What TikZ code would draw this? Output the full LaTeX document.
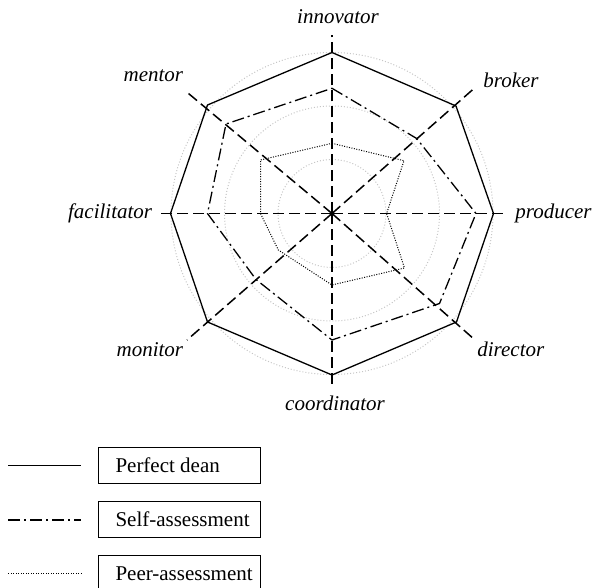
\documentclass[tikz,border=0pt]{standalone}
\usepackage{fontspec}
\setmainfont{Liberation Serif}
\usetikzlibrary{positioning}

\begin{document}
\begin{tikzpicture}[x=0.5pt,y=-0.5pt,font=\fontsize{10.5}{12}\selectfont]

	\tikzstyle{axis line}=[line width=0.75pt,dash pattern=on 5.5pt off 2.5pt]
	\tikzstyle{grid circle}=[gray!45,line width=0.5pt,dash pattern=on 0.5pt off 1pt]
	\tikzstyle{perfect dean}=[line width=0.65pt]
	\tikzstyle{self assessment}=[line width=0.65pt,dash pattern=on 6pt off 2pt on 1pt off 2pt]
	\tikzstyle{peer assessment}=[line width=0.5pt,dash pattern=on 0.5pt off 0.75pt]
	\tikzstyle{role}=[inner sep=0pt,font=\fontsize{10.5}{12}\selectfont\itshape]
	\tikzstyle{legend box}=[draw,line width=0.5pt,minimum height=18pt,inner xsep=8.35pt,anchor=west]

	\useasboundingbox (0,0) rectangle (596,588);

	\coordinate (O) at (332,213.5);

	% scale circles
	\foreach \r in {27pt,53.75pt,80.5pt}
		\draw[grid circle] (O) circle[radius=\r];

	% axes
	\coordinate (innov) at (332,35);
	\coordinate (brok)  at (474,88.5);
	\coordinate (prod)  at (506,213.5);
	\coordinate (dir)   at (475,340);
	\coordinate (coord) at (332,388.5);
	\coordinate (mon)   at (187,340);
	\coordinate (facil) at (157,213.5);
	\coordinate (ment)  at (188.5,93.5);
	\foreach \a in {innov,brok,prod,dir,coord,mon,facil,ment}
		\draw[axis line] (O) -- (\a);

	\node[role,anchor=base]      (l-innov) at (338,24)      {innovator};
	\node[role,anchor=base west] (l-brok)  at (483,88)      {broker};
	\node[role,anchor=base west] (l-prod)  at (515,218.5)   {producer};
	\node[role,anchor=base west] (l-dir)   at (477,357)     {director};
	\node[role,anchor=base]      (l-coord) at (335,411)     {coordinator};
	\node[role,anchor=base east] (l-mon)   at (183.5,357)   {monitor};
	\node[role,anchor=base east] (l-facil) at (152.5,218.5) {facilitator};
	\node[role,anchor=base east] (l-ment)  at (183.5,82)    {mentor};

	% profiles
	\draw[perfect dean] (332,52.5) -- (456,106) -- (493.5,213.5) -- (456.5,322)
		-- (332,375) -- (207.5,322) -- (170.5,213.5) -- (207.5,105) -- cycle;
	\draw[self assessment] (332,88.3) -- (416.7,138.5) -- (476,213.5) -- (439.5,303.5)
		-- (332,340) -- (256,279.5) -- (207.5,213.5) -- (226,124) -- cycle;
	\draw[peer assessment] (332,143.3) -- (404,160.7) -- (386.6,213.5) -- (404.5,268)
		-- (332,285) -- (278.3,250) -- (260.5,213.5) -- (260.5,160) -- cycle;

	% legend
	\draw[perfect dean] (8.3,465.7) -- (81,465.7);
	\node[legend box] (key-perfect) at (98.3,465.3) {\makebox[64.15pt][l]{Perfect dean}};
	\draw[self assessment] (8.3,520) -- (81,520);
	\node[legend box] (key-self) at (98.3,519.7) {\makebox[64.15pt][l]{Self-assessment}};
	\draw[peer assessment] (8.3,573.3) -- (81,573.3);
	\node[legend box] (key-peer) at (98.3,573.7) {\makebox[64.15pt][l]{Peer-assessment}};

\end{tikzpicture}
\end{document}
